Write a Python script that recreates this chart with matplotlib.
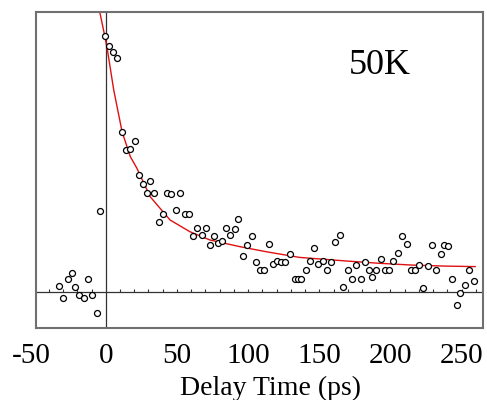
import matplotlib
matplotlib.use("Agg")
import matplotlib.pyplot as plt
import numpy as np

# measured points (delay in ps, normalised signal)
delay_ps = [-32.8, -29.8, -26.3, -23.5, -21.9, -18.6, -15.4, -12.3, -9.5, -6.5, -3.7,
            -0.7, 2.2, 5.2, 8.2, 11.5, 14.3, 17.3, 20.8, 23.6, 26.1, 29.1, 31.2, 34.2,
            37.7, 40.5, 42.9, 45.9, 49.4, 52.4, 55.7, 58.5, 61.1, 64.3, 67.6, 70.4,
            73.4, 76.2, 79.0, 81.6, 84.3, 87.4, 90.6, 93.2, 96.4, 99.5, 102.5, 105.3,
            108.1, 111.1, 114.4, 117.4, 120.2, 123.3, 126.1, 129.3, 132.6, 134.9, 137.5,
            140.5, 143.3, 146.3, 149.3, 152.3, 155.4, 158.2, 161.2, 164.2, 167.0, 170.1,
            173.1, 176.1, 179.4, 182.2, 185.2, 187.1, 190.1, 193.4, 195.9, 198.9, 202.0,
            205.0, 208.2, 211.3, 214.1, 217.1, 220.1, 223.2, 226.2, 229.2, 232.0, 235.3,
            237.9, 240.4, 243.2, 246.5, 249.1, 252.1, 255.1, 258.4]
signal = [0.023, -0.023, 0.050, 0.072, 0.020, -0.013, -0.023, 0.050, -0.013, -0.082, 0.316,
          0.999, 0.960, 0.936, 0.914, 0.624, 0.554, 0.557, 0.590, 0.456, 0.420, 0.384, 0.434, 0.384,
          0.271, 0.302, 0.384, 0.380, 0.318, 0.384, 0.302, 0.302, 0.216, 0.250, 0.221, 0.250,
          0.182, 0.218, 0.191, 0.199, 0.250, 0.221, 0.245, 0.284, 0.139, 0.181, 0.218, 0.115,
          0.084, 0.084, 0.188, 0.109, 0.121, 0.115, 0.115, 0.147, 0.051, 0.051, 0.051,
          0.085, 0.121, 0.172, 0.109, 0.121, 0.085, 0.115, 0.193, 0.223, 0.017, 0.085,
          0.051, 0.103, 0.051, 0.115, 0.085, 0.056, 0.085, 0.128, 0.085, 0.085, 0.121,
          0.151, 0.218, 0.188, 0.084, 0.084, 0.103, 0.016, 0.099, 0.182, 0.084, 0.146,
          0.181, 0.177, 0.048, -0.051, -0.006, 0.025, 0.085, 0.043]

# fitted curve
fit_t = [-6.0, -0.7, 1.4, 5.6, 11.5, 17.3, 21.8, 31.2, 45.2, 59.2, 73.2, 94.1,
         112.8, 136.0, 168.7, 192.0, 215.0, 238.6, 259.5]
fit_v = [1.14, 0.999, 0.936, 0.788, 0.624, 0.527, 0.483, 0.371, 0.280, 0.234, 0.202, 0.176,
         0.156, 0.134, 0.120, 0.111, 0.104, 0.100, 0.098]

tick_values = [-50, 0, 50, 100, 150, 200, 250]

serif = ["Liberation Serif", "DejaVu Serif"]

fig = plt.figure(figsize=(4.87, 4.0), dpi=100)
ax = fig.add_axes([36 / 487, 71.7 / 400, 447 / 487, 316.8 / 400])

ax.plot(fit_t, fit_v, color="#e01010", lw=1.0, zorder=2)
ax.plot(delay_ps, signal, "o", ms=4.3, mfc="white", mec="black", mew=0.9, zorder=3)

ax.axhline(0, color="#333333", lw=0.9, zorder=1)
ax.axvline(0, color="#333333", lw=0.9, zorder=1)
minor = [m for m in range(-40, 261, 10) if m != 0]
ax.vlines(minor, 0, 0.012, color="#333333", lw=0.8, zorder=1)

ax.set_xlim(-49, 265)
ax.set_ylim(-0.143, 1.0945)
ax.set_xticks([])
ax.set_yticks([])
for s in ax.spines.values():
    s.set_color("#707070")
    s.set_linewidth(1.5)

for v in tick_values:
    xv = v - 2 if v < 0 else v
    ax.text(xv, -0.1105, str(v), transform=ax.get_xaxis_transform(), ha="center",
            va="baseline", fontsize=21, family=serif, clip_on=False)

fig.text(271 / 487, 1 - 395 / 400, "Delay Time (ps)", ha="center", va="baseline",
         fontsize=20, family=serif)
ax.text(0.77, 0.83, "50K", transform=ax.transAxes, ha="center", va="center",
        fontsize=26, family=serif)

fig.savefig("out.png", dpi=100)
